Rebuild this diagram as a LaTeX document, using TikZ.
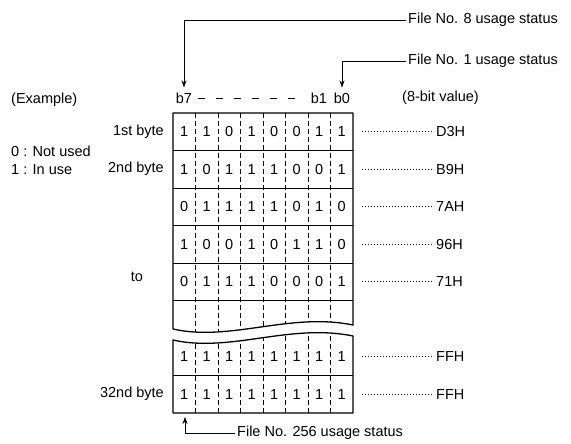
\documentclass[tikz,border=0pt]{standalone}
\usepackage{fontspec}
\setmainfont{Liberation Sans}
\usetikzlibrary{arrows.meta,positioning}
\newcommand{\diagfont}{\fontsize{14.5}{16}\selectfont}

\begin{document}
\begin{tikzpicture}[
  x=1pt, y=-1pt,
  lbl/.style={inner sep=2pt, font=\diagfont},
  bit/.style={inner sep=0pt, font=\diagfont},
  arrow/.style={-{Stealth[length=7pt,width=5pt]}, line width=0.7pt},
  frame/.style={line width=1.3pt, line join=round},
  rowline/.style={line width=0.7pt},
  colline/.style={line width=0.6pt, dash pattern=on 5pt off 3pt},
  leader/.style={line width=0.8pt, dash pattern=on 0.8pt off 2.2pt}
]
\useasboundingbox (0,0) rectangle (571,444);

\node[lbl, anchor=west] (example) at (9,100) {(Example)};
\node[lbl, anchor=west] (notused) at (9,151) {0 : Not used};
\node[lbl, anchor=west] (inuse) at (9,170) {1 : In use};
\node[lbl, anchor=east] (byte1) at (166,132) {1st byte};
\node[lbl, anchor=east] (byte2) at (166,169) {2nd byte};
\node[lbl] (to) at (137,277) {to};
\node[lbl, anchor=east] (byte32) at (166,394) {32nd byte};

\node[lbl] (b7) at (184,98) {b7};
\node[lbl] (b1) at (319,98) {b1};
\node[lbl] (b0) at (342,98) {b0};
\node[lbl, anchor=west] (value) at (400,98) {(8-bit value)};
\draw[line width=0.7pt, dash pattern=on 7pt off 11pt, shorten <=4pt, shorten >=3pt] (b7.east) -- (b1.west);

\node[lbl, anchor=west] (fn8) at (406,20) {File No. 8 usage status};
\node[lbl, anchor=west] (fn1) at (406,61) {File No. 1 usage status};
\node[lbl, anchor=west] (fn256) at (235,433) {File No. 256 usage status};
\coordinate (foot) at (185,417);

\draw[arrow, shorten >=3pt] (fn8.west) -| (b7.north);
\draw[arrow, shorten >=3pt] (fn1.west) -| (b0.north);
\draw[arrow] (fn256.west) -| (foot);

% upper part of the table
\begin{scope}
  \clip (173,113) -- (353,113) -- (353,325) .. controls (290,312) and (230,342) .. (173,329) -- cycle;
  \foreach \k in {1,...,7}
    \draw[colline] ({173+22.5*\k},113) -- ++(0,230);
\end{scope}
\foreach \y in {150.5,188,225.5,263,300.5}
  \draw[rowline] (173,\y) -- (353,\y);
\draw[frame] (173,113) -- (353,113) -- (353,325) .. controls (290,312) and (230,342) .. (173,329) -- cycle;

% lower part of the table
\begin{scope}
  \clip (173,340) .. controls (230,353) and (290,323) .. (353,336) -- (353,413) -- (173,413) -- cycle;
  \foreach \k in {1,...,7}
    \draw[colline] ({173+22.5*\k},320) -- (173+22.5*\k,413);
\end{scope}
\draw[rowline] (173,375.5) -- (353,375.5);
\draw[frame] (173,340) .. controls (230,353) and (290,323) .. (353,336) -- (353,413) -- (173,413) -- cycle;

\foreach \r/\y/\bits/\hex in {1/131.75/{1,1,0,1,0,0,1,1}/D3H,
    2/169.25/{1,0,1,1,1,0,0,1}/B9H, 3/206.75/{0,1,1,1,1,0,1,0}/7AH,
    4/244.25/{1,0,0,1,0,1,1,0}/96H, 5/281.75/{0,1,1,1,0,0,0,1}/71H,
    6/356.75/{1,1,1,1,1,1,1,1}/FFH, 7/394.25/{1,1,1,1,1,1,1,1}/FFH} {
  \foreach \b [count=\c] in \bits
    \node[bit] (cell\r-\c) at ({173+22.5*\c-11.25},\y) {\b};
  \coordinate (lead\r) at (362,\y);
  \node[lbl, anchor=west] (hex\r) at (434,\y) {\hex};
  \draw[leader] (lead\r) -- (hex\r.west);
}
\end{tikzpicture}
\end{document}
